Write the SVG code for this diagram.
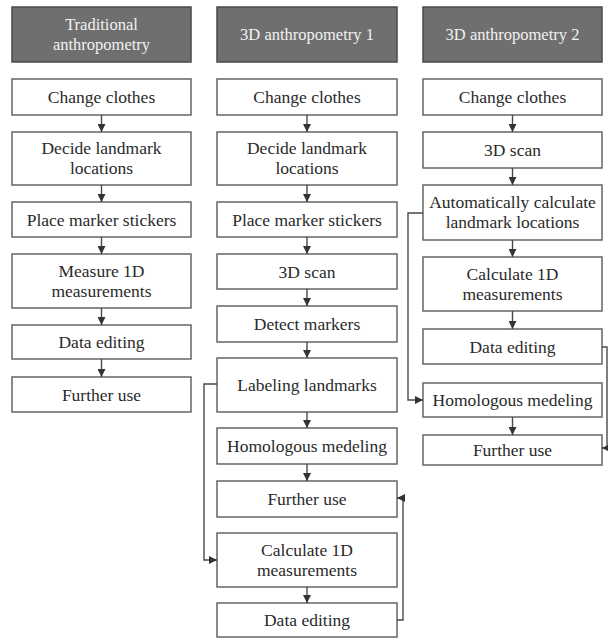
<svg xmlns="http://www.w3.org/2000/svg" width="608" height="639" viewBox="0 0 608 639">
<style>
.hdr{fill:#6f6f6f;stroke:#4a4a4a;stroke-width:1.5}
.box{fill:#fff;stroke:#5a5a5a;stroke-width:1.4}
.hd{font-family:"Liberation Serif","Times New Roman",serif;font-size:16.5px;fill:#f2f2f2;text-anchor:middle}
.lbl{font-family:"Liberation Serif","Times New Roman",serif;font-size:17.5px;fill:#2a2a2a;text-anchor:middle}
.c{fill:none;stroke:#4a4a4a;stroke-width:1.4;marker-end:url(#ah)}
</style>
<defs>
<marker id="ah" markerUnits="userSpaceOnUse" markerWidth="9" markerHeight="8" refX="8" refY="4" orient="auto">
<path d="M0,0 L8,4 L0,8 z" fill="#333"/>
</marker>
</defs>
<g font-family="Liberation Serif, Times New Roman, serif">
<g id="h1"><rect class="hdr" x="12" y="7" width="179" height="55"/><text class="hd" x="101.5" y="29.5">Traditional</text><text class="hd" x="101.5" y="49.5">anthropometry</text></g>
<g id="h2"><rect class="hdr" x="217" y="7" width="180" height="55"/><text class="hd" x="307" y="40">3D anthropometry 1</text></g>
<g id="h3"><rect class="hdr" x="423" y="7" width="179" height="55"/><text class="hd" x="512.5" y="40">3D anthropometry 2</text></g>

<g id="a1"><rect class="box" x="12" y="79" width="179" height="36"/><text class="lbl" x="101.5" y="103">Change clothes</text></g>
<g id="a2"><rect class="box" x="12" y="132" width="179" height="53"/><text class="lbl" x="101.5" y="154">Decide landmark</text><text class="lbl" x="101.5" y="174">locations</text></g>
<g id="a3"><rect class="box" x="12" y="202" width="179" height="35"/><text class="lbl" x="101.5" y="225.5">Place marker stickers</text></g>
<g id="a4"><rect class="box" x="12" y="254" width="179" height="54"/><text class="lbl" x="101.5" y="277">Measure 1D</text><text class="lbl" x="101.5" y="297">measurements</text></g>
<g id="a5"><rect class="box" x="12" y="325" width="179" height="34"/><text class="lbl" x="101.5" y="348">Data editing</text></g>
<g id="a6"><rect class="box" x="12" y="377" width="179" height="35"/><text class="lbl" x="101.5" y="400.5">Further use</text></g>

<g id="b1"><rect class="box" x="217" y="79" width="180" height="36"/><text class="lbl" x="307" y="103">Change clothes</text></g>
<g id="b2"><rect class="box" x="217" y="132" width="180" height="53"/><text class="lbl" x="307" y="154">Decide landmark</text><text class="lbl" x="307" y="174">locations</text></g>
<g id="b3"><rect class="box" x="217" y="202" width="180" height="35"/><text class="lbl" x="307" y="225.5">Place marker stickers</text></g>
<g id="b4"><rect class="box" x="217" y="254" width="180" height="35"/><text class="lbl" x="307" y="277.5">3D scan</text></g>
<g id="b5"><rect class="box" x="217" y="306" width="180" height="36"/><text class="lbl" x="307" y="330">Detect markers</text></g>
<g id="b6"><rect class="box" x="217" y="358" width="180" height="54"/><text class="lbl" x="307" y="391">Labeling landmarks</text></g>
<g id="b7"><rect class="box" x="217" y="428" width="180" height="36"/><text class="lbl" x="307" y="452">Homologous medeling</text></g>
<g id="b8"><rect class="box" x="217" y="481" width="180" height="36"/><text class="lbl" x="307" y="505">Further use</text></g>
<g id="b9"><rect class="box" x="217" y="533" width="180" height="54"/><text class="lbl" x="307" y="556">Calculate 1D</text><text class="lbl" x="307" y="576">measurements</text></g>
<g id="b10"><rect class="box" x="217" y="603" width="180" height="34"/><text class="lbl" x="307" y="626">Data editing</text></g>

<g id="c1"><rect class="box" x="423" y="79" width="179" height="36"/><text class="lbl" x="512.5" y="103">Change clothes</text></g>
<g id="c2"><rect class="box" x="423" y="132" width="179" height="36"/><text class="lbl" x="512.5" y="156">3D scan</text></g>
<g id="c3"><rect class="box" x="423" y="185" width="179" height="55"/><text class="lbl" x="512.5" y="207.5">Automatically calculate</text><text class="lbl" x="512.5" y="227.5">landmark locations</text></g>
<g id="c4"><rect class="box" x="423" y="257" width="179" height="54"/><text class="lbl" x="512.5" y="280">Calculate 1D</text><text class="lbl" x="512.5" y="300">measurements</text></g>
<g id="c5"><rect class="box" x="423" y="329" width="179" height="35"/><text class="lbl" x="512.5" y="352.5">Data editing</text></g>
<g id="c6"><rect class="box" x="423" y="383" width="179" height="34"/><text class="lbl" x="512.5" y="406">Homologous medeling</text></g>
<g id="c7"><rect class="box" x="423" y="435" width="179" height="30"/><text class="lbl" x="512.5" y="456">Further use</text></g>
</g>
<g id="connectors">
<path class="c" d="M101.5,115 V132"/>
<path class="c" d="M101.5,185 V202"/>
<path class="c" d="M101.5,237 V254"/>
<path class="c" d="M101.5,308 V325"/>
<path class="c" d="M101.5,359 V377"/>

<path class="c" d="M307,115 V132"/>
<path class="c" d="M307,185 V202"/>
<path class="c" d="M307,237 V254"/>
<path class="c" d="M307,289 V306"/>
<path class="c" d="M307,342 V358"/>
<path class="c" d="M307,412 V428"/>
<path class="c" d="M307,464 V481"/>
<path class="c" d="M307,587 V603"/>
<path class="c" d="M217,384 H204 V560 H217"/>
<path class="c" d="M397,620 H403 V498 H397"/>

<path class="c" d="M512.5,115 V132"/>
<path class="c" d="M512.5,168 V185"/>
<path class="c" d="M512.5,240 V257"/>
<path class="c" d="M512.5,311 V329"/>
<path class="c" d="M512.5,417 V435"/>
<path class="c" d="M423,213 H408 V400 H423"/>
<path class="c" d="M602,347 H607 V448 H602"/>
</g>
</svg>
